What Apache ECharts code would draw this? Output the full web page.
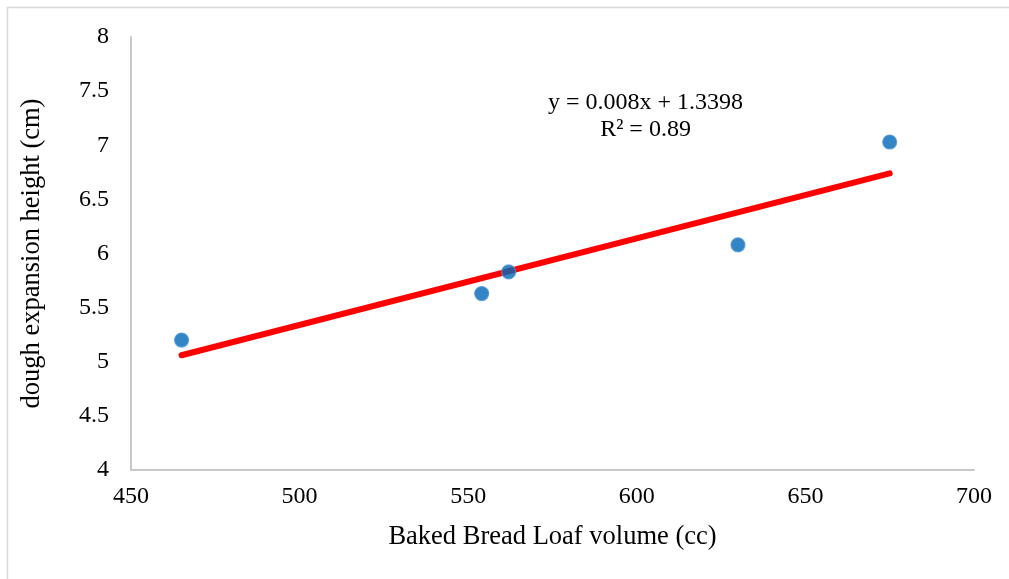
<!DOCTYPE html>
<html>
<head>
<meta charset="utf-8">
<script src="https://cdn.jsdelivr.net/npm/echarts@6/dist/echarts.min.js"></script>
<style>
  html, body { margin: 0; padding: 0; background: #fff; }
  #chart { width: 1009px; height: 579px; }
</style>
</head>
<body>
<div id="chart"></div>
<script>
// Loaf volume vs dough expansion height
const loafVolume = [465, 554, 562, 630, 675];
const doughHeight = [5.2, 5.63, 5.83, 6.08, 7.03];

// Linear trendline y = slope * x + intercept
const trendSlope = 0.008;
const trendIntercept = 1.3398;
const trendR2 = 0.89;

const xTicks = [450, 500, 550, 600, 650, 700];
const yTicks = [4, 4.5, 5, 5.5, 6, 6.5, 7, 7.5, 8];

const font = '"Liberation Serif", "Times New Roman", serif';

const xMin = Math.min(...loafVolume);
const xMax = Math.max(...loafVolume);
const trendPoints = [xMin, xMax].map(x => [x, trendSlope * x + trendIntercept]);

const chart = echarts.init(document.getElementById('chart'), null, { renderer: 'canvas' });

chart.setOption({
  animation: false,
  backgroundColor: '#fff',
  grid: { left: 131, top: 37, right: 35, bottom: 109, containLabel: false },
  xAxis: {
    type: 'value',
    min: xTicks[0],
    max: xTicks[xTicks.length - 1],
    interval: 50,
    name: 'Baked Bread Loaf volume (cc)',
    nameLocation: 'middle',
    nameGap: 54,
    nameTextStyle: { fontFamily: font, fontSize: 26.5, color: '#000' },
    axisLine: { show: true, lineStyle: { color: '#c8c8c8', width: 2 } },
    axisTick: { show: false },
    splitLine: { show: false },
    axisLabel: { fontFamily: font, fontSize: 24, color: '#000', margin: 15 }
  },
  yAxis: {
    type: 'value',
    min: yTicks[0],
    max: yTicks[yTicks.length - 1],
    interval: 0.5,
    name: 'dough expansion height (cm)',
    nameLocation: 'middle',
    nameGap: 85,
    nameTextStyle: { fontFamily: font, fontSize: 26.5, color: '#000' },
    axisLine: { show: true, lineStyle: { color: '#c8c8c8', width: 2 } },
    axisTick: { show: false },
    splitLine: { show: false },
    axisLabel: { fontFamily: font, fontSize: 24, color: '#000', margin: 22 }
  },
  graphic: [
    {
      type: 'rect',
      shape: { x: 7.5, y: 7.5, width: 1010, height: 580 },
      style: { fill: 'none', stroke: '#d9d9d9', lineWidth: 1.5 },
      silent: true
    },
    {
      type: 'text',
      left: 548,
      top: 89,
      style: {
        text: 'y = ' + trendSlope + 'x + ' + trendIntercept + '\nR² = ' + trendR2,
        font: '24px ' + font,
        fill: '#000',
        textAlign: 'center',
        lineHeight: 27
      }
    }
  ],
  series: [
    {
      type: 'line',
      data: trendPoints,
      symbol: 'none',
      lineStyle: { color: '#ff0000', width: 6, cap: 'round' },
      z: 2
    },
    {
      type: 'scatter',
      data: loafVolume.map((x, i) => [x, doughHeight[i]]),
      symbol: 'circle',
      symbolSize: 14,
      itemStyle: { color: '#0068b8', borderColor: '#4d92d2', borderWidth: 1.2 },
      z: 3
    }
  ]
});
</script>
</body>
</html>
